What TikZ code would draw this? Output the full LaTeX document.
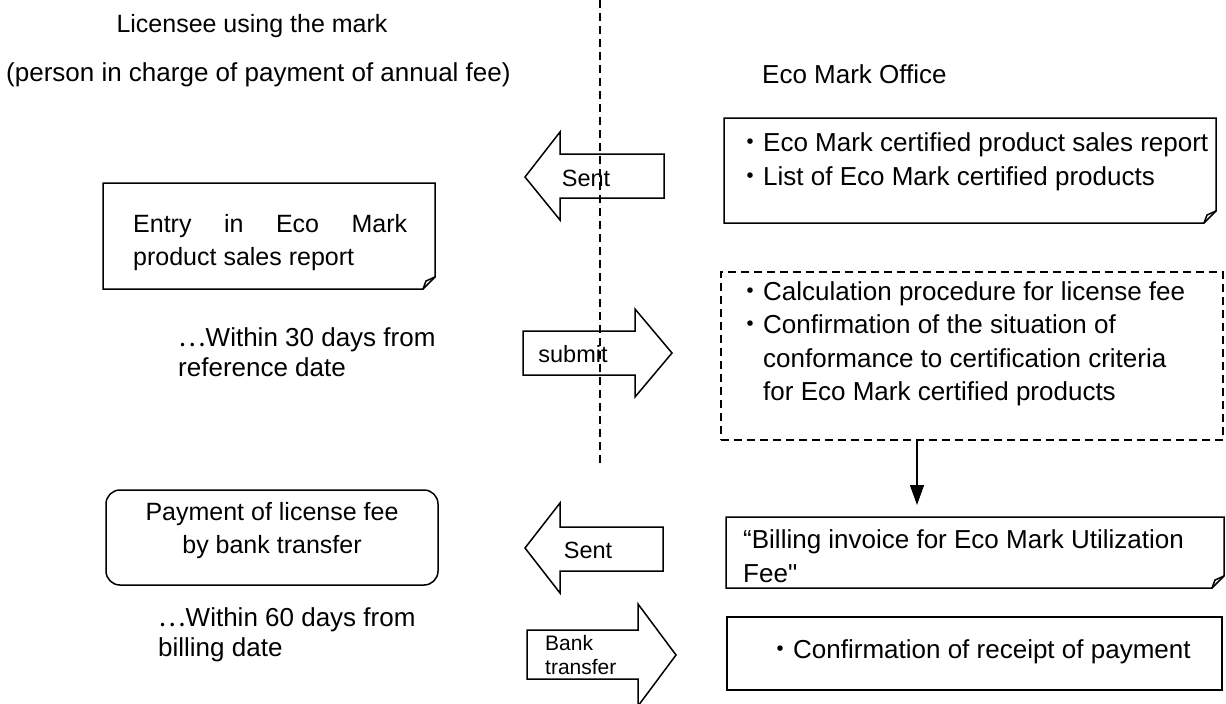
\documentclass[tikz,border=0pt]{standalone}
\usepackage{fontspec}
\setmainfont{Liberation Sans}
\newfontfamily\cjk{Noto Sans CJK JP}
\newfontfamily\plainq{Liberation Sans}
\usetikzlibrary{arrows.meta, positioning}
\newcommand{\nk}{{\cjk ・}}
\newcommand{\ellip}{{\cjk …}}
% outline with a folded corner, drawn round a named node
\newcommand{\dogear}[1]{%
  \draw[boxline] (#1.north west) -- (#1.north east) -- ([yshift=12pt]#1.south east)
    -- ([xshift=-12pt]#1.south east) -- (#1.south west) -- cycle;
  \draw[boxline] ([xshift=-12pt]#1.south east) -- ([xshift=-9pt, yshift=8pt]#1.south east)
    -- ([yshift=12pt]#1.south east);}

\begin{document}
\begin{tikzpicture}[x=1pt, y=-1pt, >=Stealth,
  boxline/.style={line width=1.5pt, line join=miter},
  frame/.style={inner sep=0pt, outer sep=0pt, rectangle},
  body/.style={font=\fontsize{26}{33.5}\selectfont, inner sep=0pt, align=left},
  lbody/.style={font=\fontsize{25}{33}\selectfont, inner sep=0pt, align=left},
  narrow/.style={font=\fontsize{26}{30}\selectfont, inner sep=0pt, align=left},
  blockarr/.style={line width=1.5pt, line join=miter},
  armlabel/.style={font=\fontsize{23.5}{25}\selectfont, inner sep=0pt}]
  \useasboundingbox (0,0) rectangle (1226,704);
  % headings
  \node[lbody, anchor=center] (licensee) at (252,26) {Licensee using the mark};
  \node[body, anchor=west] (payer) at (6,75) {(person in charge of payment of annual fee)};
  \node[body, anchor=west] (office) at (762,74) {Eco Mark Office};

  % office side
  \node[frame, minimum width=492pt, minimum height=105pt] (sendbox) at (970,170.5) {};
  \dogear{sendbox}
  \node[body, anchor=west] (sendtxt) at (737,162) {\nk Eco Mark certified product sales report\\\nk List of Eco Mark certified products};

  \node[frame, draw, boxline, dash pattern=on 8pt off 5pt, minimum width=502pt, minimum height=168pt] (calcbox) at (972,356) {};
  \node[body, anchor=west] (calctxt) at (737,344) {\nk Calculation procedure for license fee\\\nk Confirmation of the situation of\\\phantom{\nk}conformance to certification criteria\\\phantom{\nk}for Eco Mark certified products};

  \node[frame, minimum width=498pt, minimum height=71pt] (billbox) at (975,552.5) {};
  \dogear{billbox}
  \node[body, anchor=west] (billtxt) at (743,556) {\char"201C Billing invoice for Eco Mark Utilization\\Fee{\plainq "}};

  \node[frame, draw, boxline, minimum width=495pt, minimum height=73pt] (paidbox) at (974.5,653.5) {};
  \node[body, anchor=west] (paidtxt) at (767,652) {\nk Confirmation of receipt of payment};

  \coordinate (dropx) at (917,0);
  \draw[boxline, -{Triangle[length=20pt, width=14pt]}, shorten >=12pt] (calcbox.south -| dropx) -- (billbox.north -| dropx);

  % licensee side
  \node[frame, minimum width=332pt, minimum height=106pt] (entrybox) at (269,236) {};
  \dogear{entrybox}
  \node[lbody, anchor=west] (entrytxt) at (133,243) {\makebox[274pt][s]{Entry in Eco Mark}\\product sales report};
  \node[narrow, anchor=west] (due30) at (178,352) {\ellip Within 30 days from\\reference date};

  \node[frame, draw, boxline, rounded corners=14pt, minimum width=332pt, minimum height=95pt] (paybox) at (272,537.5) {};
  \node[lbody, align=center] (paytxt) at (272,531) {Payment of license fee\\by bank transfer};
  \node[narrow, anchor=west] (due60) at (158,635) {\ellip Within 60 days from\\billing date};

  % block arrows between the two sides
  \draw[blockarr] (525,177) -- (560,132) -- (560,154) -- (664,154) -- (664,198) -- (560,198) -- (560,220) -- cycle;
  \node[armlabel] (sentA) at (586,178) {Sent};
  \draw[blockarr] (523,331) -- (635,331) -- (635,309) -- (672,353) -- (635,397) -- (635,375) -- (523,375) -- cycle;
  \node[armlabel] (submit) at (573,354) {submit};
  \draw[blockarr] (525,548) -- (560,503) -- (560,527) -- (663,527) -- (663,571) -- (560,571) -- (560,593) -- cycle;
  \node[armlabel] (sentB) at (588,550) {Sent};
  \draw[blockarr] (527,630) -- (638,630) -- (638,604) -- (676,655) -- (638,706) -- (638,679) -- (527,679) -- cycle;
  \node[armlabel, font=\fontsize{21}{24}\selectfont, align=left, anchor=west] (banktr) at (545,655) {Bank\\transfer};

  % divider
  \draw[line width=1.5pt, dash pattern=on 8pt off 5pt] (600,0) -- (600,465);
\end{tikzpicture}
\end{document}
